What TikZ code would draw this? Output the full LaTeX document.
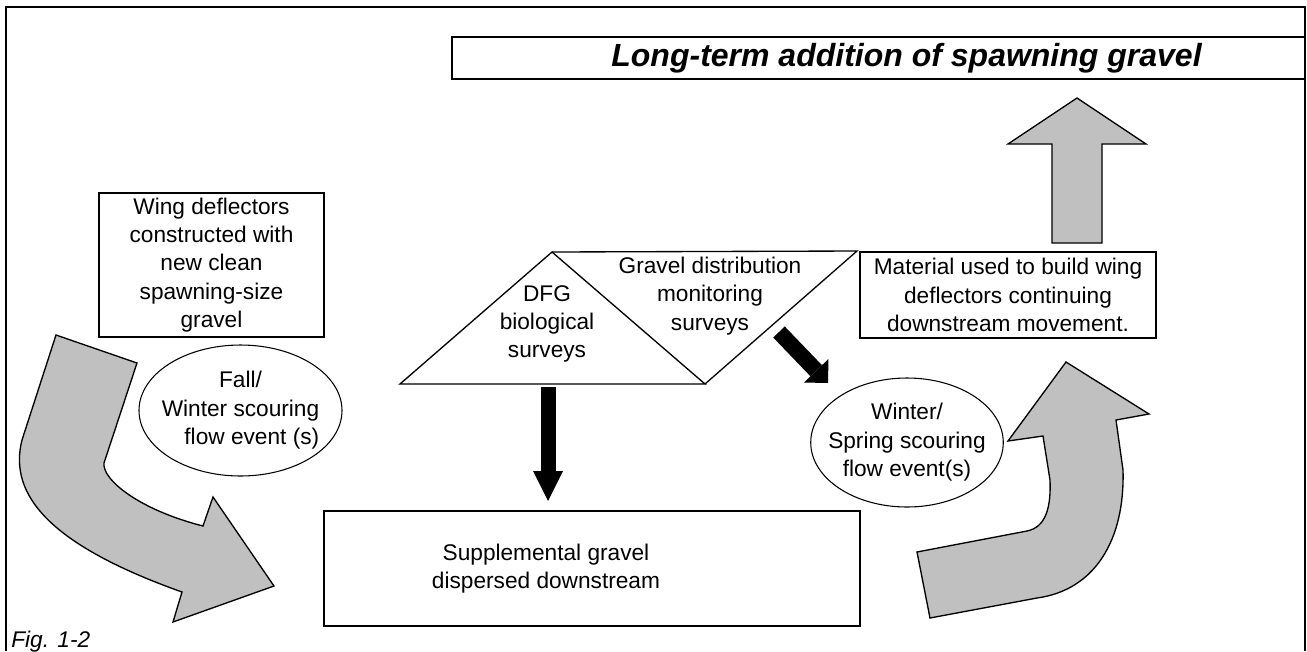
\documentclass[tikz,border=0pt]{standalone}
\usepackage{fontspec}
\setmainfont{Liberation Sans}
\usetikzlibrary{positioning, arrows.meta, calc, shapes.geometric}
\definecolor{flowgray}{HTML}{C0C0C0}
\definecolor{ink}{HTML}{000000}

\begin{document}
\begin{tikzpicture}[
    x=0.75pt, y=-0.75pt,
    every node/.style={font=\fontsize{17}{21.3}\selectfont, text=ink},
    box/.style={rectangle, draw=ink, line width=1.5pt, align=center, inner sep=0pt},
    event/.style={ellipse, draw=ink, line width=0.8pt, align=center,
                  inner xsep=-8pt, inner ysep=0pt},
    txt/.style={align=center, inner sep=0pt},
    survey/.style={draw=ink, line width=1pt, line join=miter},
    flow/.style={draw=ink, fill=flowgray, line width=1pt, line join=miter},
    push/.style={ink, line width=11.25pt,
                 -{Triangle[length=22.5pt, width=22.5pt, line width=0pt]}}
  ]
    \useasboundingbox (0,0) rectangle (1307,651);
    \draw[line width=1.5pt] (6,651) -- (6,7) -- (1305,7) -- (1305,651);

    \node[box, minimum width=639.75pt, minimum height=31.5pt,
          font=\fontsize{24}{28}\selectfont\bfseries\itshape] (title) at (878.5,58)
          {\hspace*{42pt}Long-term addition of spawning gravel};
    \node[box, minimum width=168.75pt, minimum height=108pt] (wing) at (211.5,265)
          {Wing deflectors\\constructed with\\new clean\\spawning-size\\gravel};
    \node[event, minimum width=152.25pt, minimum height=98.25pt] (fall) at (240.5,410.5)
          {Fall/\\Winter scouring\\\hspace*{1em}flow event (s)};
    \node[box, minimum width=402pt, minimum height=86.25pt] (supp) at (592,568.5) {};
    \node[txt] (supptext) at ($(supp.center)+(-46,0)$)
          {Supplemental gravel\\dispersed downstream};
    \node[event, minimum width=144pt, minimum height=96.75pt] (spring) at (907,442.5)
          {Winter/\\Spring scouring\\flow event(s)};
    \node[box, minimum width=222pt, minimum height=64.5pt] (mat) at (1008,295)
          {Material used to build wing\\deflectors continuing\\downstream movement.};

    \draw[survey] (400,384) -- (552,252) -- (705,384) -- cycle;
    \draw[survey] (552,252) -- (857,251) -- (705,384);
    \node[txt] (dfg) at (547,324) {DFG\\biological\\surveys};
    \node[txt] (gdm) at (710,296) {Gravel distribution\\monitoring\\surveys};

    \draw[flow] (56,335) -- (137,363) -- (104,463)
        .. controls (102,480) and (140,510) .. (203,526)
        -- (213,497) -- (274,586) -- (173,622) -- (182,592)
        .. controls (50,545) and (8,495) .. (22,440) -- cycle;
    \draw[flow] (930,618) -- (917,552) -- (1027,531)
        .. controls (1047,527) and (1051,505) .. (1050,480)
        -- (1043,436) -- (1008,441) -- (1066,362) -- (1149,414) -- (1116,420)
        -- (1123,470) .. controls (1125,540) and (1095,590) .. (1037,598) -- cycle;
    \draw[flow] (1052,243) -- (1052,144) -- (1008,144) -- (1077,98)
        -- (1146,144) -- (1102,144) -- (1102,243) -- cycle;

    \coordinate (dfgfoot) at (548,387);
    \coordinate (gdmfoot) at (779,332);
    \coordinate (springtip) at (828,383);
    \draw[push] (dfgfoot) -- ($(supp.north -| dfgfoot)+(0,-9)$);
    \draw[push, line width=12pt,
          -{Triangle[length=12.75pt, width=25.5pt, line width=0pt]}] (gdmfoot) -- (springtip);

    \node[anchor=west, inner sep=0pt, font=\fontsize{17}{20}\selectfont\itshape]
          (figlabel) at (11,642) {Fig. 1-2};
  \end{tikzpicture}
\end{document}
